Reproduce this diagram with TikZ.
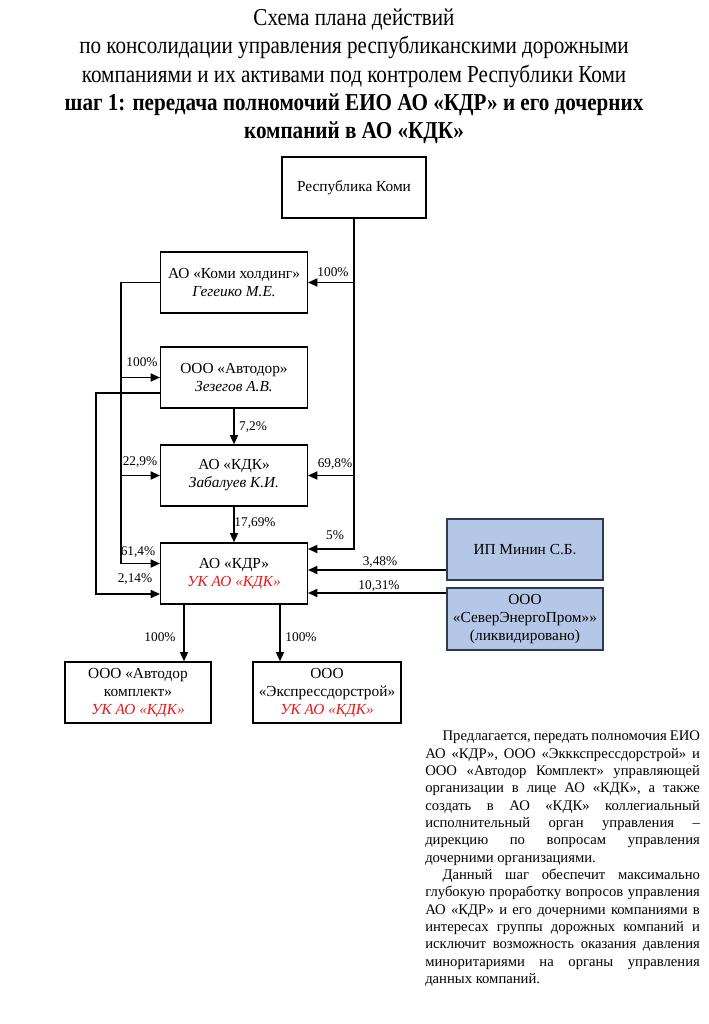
\documentclass[tikz,border=0pt]{standalone}
\usepackage{fontspec}
\setmainfont{Liberation Serif}
\newfontfamily\titlefont[FakeStretch=0.87]{Liberation Serif}
\usetikzlibrary{arrows.meta, positioning, calc}
\definecolor{KBorder}{RGB}{46, 58, 78}
\definecolor{KFill}{RGB}{180, 199, 231}
\definecolor{KRed}{RGB}{232, 22, 22}
\newcommand{\ukkdk}{\textcolor{KRed}{\itshape УК АО «КДК»}}

\begin{document}
\begin{tikzpicture}[
  x=0.75pt, y=-0.75pt,
  every node/.style={font=\fontsize{11.5}{13.5}\selectfont},
  org/.style={draw, line width=1pt, fill=white, align=center,
              minimum width=110pt, minimum height=45.75pt, inner sep=2pt},
  outside/.style={org, draw=KBorder, fill=KFill, minimum width=117pt},
  share/.style={font=\fontsize{10}{12}\selectfont, inner sep=1pt},
  arr/.style={-{Triangle[length=7pt, width=6pt]}, line width=1.3pt}
]
  \useasboundingbox (0,0) rectangle (708,1024);

  % title
  \node[font=\titlefont\fontsize{18.2}{21.2}\selectfont, align=center] (title) at (354,76.5)
    {Схема плана действий\\
     по консолидации управления республиканскими дорожными\\
     компаниями и их активами под контролем Республики Коми\\
     \bfseries шаг 1: передача полномочий ЕИО АО «КДР» и его дочерних\\
     \bfseries компаний в АО «КДК»};

  % companies
  \node[org, minimum width=108pt] (rk) at (354,187.5) {Республика Коми};
  \node[org] (kh)  at (234,282.5) {АО «Коми холдинг»\\\textit{Гегеико М.Е.}};
  \node[org] (ad)  at (234,377.5) {ООО «Автодор»\\\textit{Зезегов А.В.}};
  \node[org] (kdk) at (234,475.5) {АО «КДК»\\\textit{Забалуев К.И.}};
  \node[org] (kdr) at (234,573.5) {АО «КДР»\\\ukkdk};
  \node[outside] (mn)  at (525,549.5) {ИП Минин С.Б.};
  \node[outside, minimum height=46.5pt] (sep) at (525,619)
    {ООО\\«СеверЭнергоПром»»\\(ликвидировано)};
  \node[org, minimum width=109.5pt] (akom) at (138,692.5)
    {ООО «Автодор\\комплект»\\\ukkdk};
  \node[org, minimum width=111pt] (eds) at (327,692.5)
    {ООО\\«Экспрессдорстрой»\\\ukkdk};

  % ports and trunks
  \coordinate (trunkL) at (121,0);
  \coordinate (trunkO) at (96,0);
  \coordinate (downA) at (184,0);
  \coordinate (downB) at (280,0);
  \coordinate (adW)  at ($(ad.west)+(0,15.5)$);
  \coordinate (kdrW1) at ($(kdr.west)+(0,-10)$);
  \coordinate (kdrW2) at ($(kdr.west)+(0,20.5)$);
  \coordinate (kdrE1) at ($(kdr.east)+(0,-24.5)$);
  \coordinate (kdrE2) at ($(kdr.east)+(0,-3.5)$);
  \coordinate (kdrE3) at ($(kdr.east)+(0,19.5)$);

  % ownership
  \draw[arr] (rk.south) |- (kh.east);
  \draw[arr] (rk.south) |- (kdk.east);
  \draw[arr] (rk.south) |- (kdrE1);
  \draw[arr] (kh.west) -| (trunkL |- kdrW1) -- (kdrW1);
  \draw[arr] (trunkL |- ad) -- (ad.west);
  \draw[arr] (trunkL |- kdk) -- (kdk.west);
  \draw[arr] (adW) -| (trunkO |- kdrW2) -- (kdrW2);
  \draw[arr] (ad) -- (kdk);
  \draw[arr] (kdk) -- (kdr);
  \draw[arr] (mn.west |- kdrE2) -- (kdrE2);
  \draw[arr] (sep.west |- kdrE3) -- (kdrE3);
  \draw[arr] (kdr.south -| downA) -- (akom.north -| downA);
  \draw[arr] (kdr.south -| downB) -- (eds.north -| downB);

  % shares
  \node[share] (s1)  at (333,272) {100\%};
  \node[share] (s2)  at (142,362) {100\%};
  \node[share] (s3)  at (253,427) {7,2\%};
  \node[share] (s4)  at (140,462) {22,9\%};
  \node[share] (s5)  at (335,464) {69,8\%};
  \node[share] (s6)  at (255,523) {17,69\%};
  \node[share] (s7)  at (335,535) {5\%};
  \node[share] (s8)  at (138,552) {61,4\%};
  \node[share] (s9)  at (135,579) {2,14\%};
  \node[share] (s10) at (380,562) {3,48\%};
  \node[share] (s11) at (379,586) {10,31\%};
  \node[share] (s12) at (160,637) {100\%};
  \node[share] (s13) at (301,637) {100\%};

  % explanation
  \node[anchor=north west, inner sep=0pt, font=\fontsize{11}{13}\selectfont] (note) at (425,731)
    {\begin{minipage}{206pt}\setlength{\parindent}{13pt}%
     Предлагается, передать полномочия ЕИО\linebreak
     АО «КДР», ООО «Экккспрессдорстрой» и\linebreak
     ООО «Автодор Комплект» управляющей\linebreak
     организации в лице АО «КДК», а также\linebreak
     создать в АО «КДК» коллегиальный\linebreak
     исполнительный орган управления –\linebreak
     дирекцию по вопросам управления\linebreak
     дочерними организациями.\par
     Данный шаг обеспечит максимально\linebreak
     глубокую проработку вопросов управления\linebreak
     АО «КДР» и его дочерними компаниями в\linebreak
     интересах группы дорожных компаний и\linebreak
     исключит возможность оказания давления\linebreak
     миноритариями на органы управления\linebreak
     данных компаний.
     \end{minipage}};
\end{tikzpicture}
\end{document}
